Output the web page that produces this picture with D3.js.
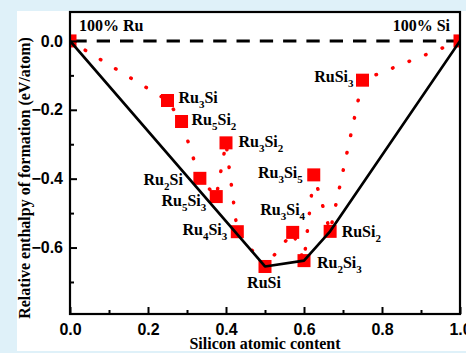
<!DOCTYPE html>
<html>
<head>
<meta charset="utf-8">
<script src="https://cdn.jsdelivr.net/npm/d3@7"></script>
<style>
  body { margin: 0; background: #dff1f9; }
  svg { display: block; }
</style>
</head>
<body>
<svg></svg>
<script>
const width = 466;
const height = 353;

// phases along the Ru-Si line
const phases = ["Ru", "Ru3Si", "Ru5Si2", "Ru2Si", "Ru5Si3", "Ru3Si2", "Ru4Si3", "RuSi", "Ru3Si4", "Ru2Si3", "Ru3Si5", "RuSi2", "RuSi3", "Si"];
const siContent = [0, 0.25, 0.286, 0.333, 0.375, 0.4, 0.429, 0.5, 0.571, 0.6, 0.625, 0.667, 0.75, 1];
const enthalpy = [0, -0.173, -0.234, -0.399, -0.452, -0.296, -0.554, -0.655, -0.556, -0.638, -0.389, -0.553, -0.114, 0];
const hullPhases = ["Ru", "RuSi", "Ru2Si3", "RuSi2", "Si"];
const xTicks = [0, 0.2, 0.4, 0.6, 0.8, 1.0];
const xMinor = [0.1, 0.3, 0.5, 0.7, 0.9];
const yTicks = [0, -0.2, -0.4, -0.6];
const yMinor = [-0.1, -0.3, -0.5, -0.7];

// label placement next to each square: [dx, dy, anchor]
const labelPos = {
  Ru3Si: [11, 3, "start"], Ru5Si2: [10, 3.5, "start"], Ru3Si2: [12.5, 4, "start"],
  Ru2Si: [-17, 6.5, "end"], Ru5Si3: [-10, 9.5, "end"], Ru4Si3: [-10, 3.5, "end"],
  RuSi: [-1, 21.5, "middle"], Ru3Si4: [-10, -17.5, "middle"], Ru2Si3: [13, 7, "start"],
  Ru3Si5: [-11, 3.5, "end"], RuSi2: [11.5, 5.5, "start"], RuSi3: [-9, 1.5, "end"]
};

const data = phases.map((p, i) => ({ name: p, x: siContent[i], y: enthalpy[i] }));
const hull = hullPhases.map(n => data.find(d => d.name === n));

const pLeft = 70, pRight = 460, pTop = 12, pBottom = 314;
const x = d3.scaleLinear().domain([0, 1]).range([pLeft, pRight]);
const y = d3.scaleLinear().domain([-0.793, 0.084]).range([pBottom, pTop]);

let svg = d3.select("svg").attr("width", width).attr("height", height);

svg.append("rect").attr("x", 0).attr("y", 0).attr("width", width).attr("height", height).attr("fill", "#dff1f9");
svg.append("rect").attr("x", 17).attr("y", 11).attr("width", width - 17).attr("height", 340).attr("fill", "#fff");

svg.append("clipPath").attr("id", "plotClip")
  .append("rect").attr("x", pLeft).attr("y", pTop).attr("width", pRight - pLeft).attr("height", pBottom - pTop);

const plot = svg.append("g").attr("clip-path", "url(#plotClip)");

// zero reference line
plot.append("line")
  .attr("x1", x(0)).attr("x2", x(1)).attr("y1", y(0)).attr("y2", y(0))
  .attr("stroke", "#000").attr("stroke-width", 3)
  .attr("stroke-dasharray", "13.3 10").attr("stroke-dashoffset", 19.9);

const line = d3.line().x(d => x(d.x)).y(d => y(d.y));

plot.append("path").attr("d", line(data))
  .attr("fill", "none").attr("stroke", "#ff0000").attr("stroke-width", 3.5)
  .attr("stroke-linecap", "round").attr("stroke-dasharray", "0.5 17.3");

plot.selectAll("rect.pt").data(data).join("rect").attr("class", "pt")
  .attr("x", d => x(d.x) - 6.5).attr("y", d => y(d.y) - 6.5)
  .attr("width", 13).attr("height", 13).attr("fill", "#ff0000");

plot.append("path").attr("d", line(hull))
  .attr("fill", "none").attr("stroke", "#000").attr("stroke-width", 2.7)
  .attr("stroke-linejoin", "round");

// axes
const tickStyle = g => {
  g.select(".domain").remove();
  g.selectAll(".tick line").attr("stroke", "#000").attr("stroke-width", 2);
  g.selectAll(".tick text").attr("font-family", "Liberation Sans, Arial, sans-serif")
    .attr("font-weight", "bold").attr("font-size", 16).attr("fill", "#000");
};

svg.append("g").attr("transform", `translate(0,${pBottom})`)
  .call(d3.axisBottom(x).tickValues(xTicks).tickFormat(d3.format(".1f")).tickSize(-7).tickPadding(10))
  .call(tickStyle);
svg.append("g").attr("transform", `translate(0,${pBottom})`)
  .call(d3.axisBottom(x).tickValues(xMinor).tickFormat("").tickSize(-4))
  .call(tickStyle);
svg.append("g").attr("transform", `translate(${pLeft},0)`)
  .call(d3.axisLeft(y).tickValues(yTicks).tickFormat(d3.format(".1f")).tickSize(-7).tickPadding(7))
  .call(tickStyle);
svg.append("g").attr("transform", `translate(${pLeft},0)`)
  .call(d3.axisLeft(y).tickValues(yMinor).tickFormat("").tickSize(-4))
  .call(tickStyle);

svg.append("rect").attr("x", pLeft).attr("y", pTop).attr("width", pRight - pLeft).attr("height", pBottom - pTop)
  .attr("fill", "none").attr("stroke", "#000").attr("stroke-width", 2.2);

// phase labels with subscripts
const serif = "Liberation Serif, Times New Roman, serif";
data.filter(d => labelPos[d.name]).forEach(d => {
  const [dx, dy, anchor] = labelPos[d.name];
  const t = svg.append("text").attr("x", x(d.x) + dx).attr("y", y(d.y) + dy)
    .attr("text-anchor", anchor).attr("font-family", serif)
    .attr("font-weight", "bold").attr("font-size", 16);
  let shifted = false;
  d.name.split(/(\d+)/).filter(s => s).forEach(part => {
    if (/\d/.test(part)) {
      t.append("tspan").attr("dy", 5).attr("font-size", 11).text(part);
      shifted = true;
    } else {
      t.append("tspan").attr("dy", shifted ? -5 : 0).text(part);
      shifted = false;
    }
  });
});

svg.append("text").attr("x", 79).attr("y", 31).attr("font-family", serif)
  .attr("font-weight", "bold").attr("font-size", 16).text("100% Ru");
svg.append("text").attr("x", 450).attr("y", 31).attr("text-anchor", "end").attr("font-family", serif)
  .attr("font-weight", "bold").attr("font-size", 16).text("100% Si");

svg.append("text").attr("x", (pLeft + pRight) / 2).attr("y", 349).attr("text-anchor", "middle")
  .attr("font-family", serif).attr("font-weight", "bold").attr("font-size", 16)
  .text("Silicon atomic content");
svg.append("text").attr("transform", "translate(30,178) rotate(-90)").attr("text-anchor", "middle")
  .attr("font-family", serif).attr("font-weight", "bold").attr("font-size", 16)
  .text("Relative enthalpy of formation (eV/atom)");
</script>
</body>
</html>
